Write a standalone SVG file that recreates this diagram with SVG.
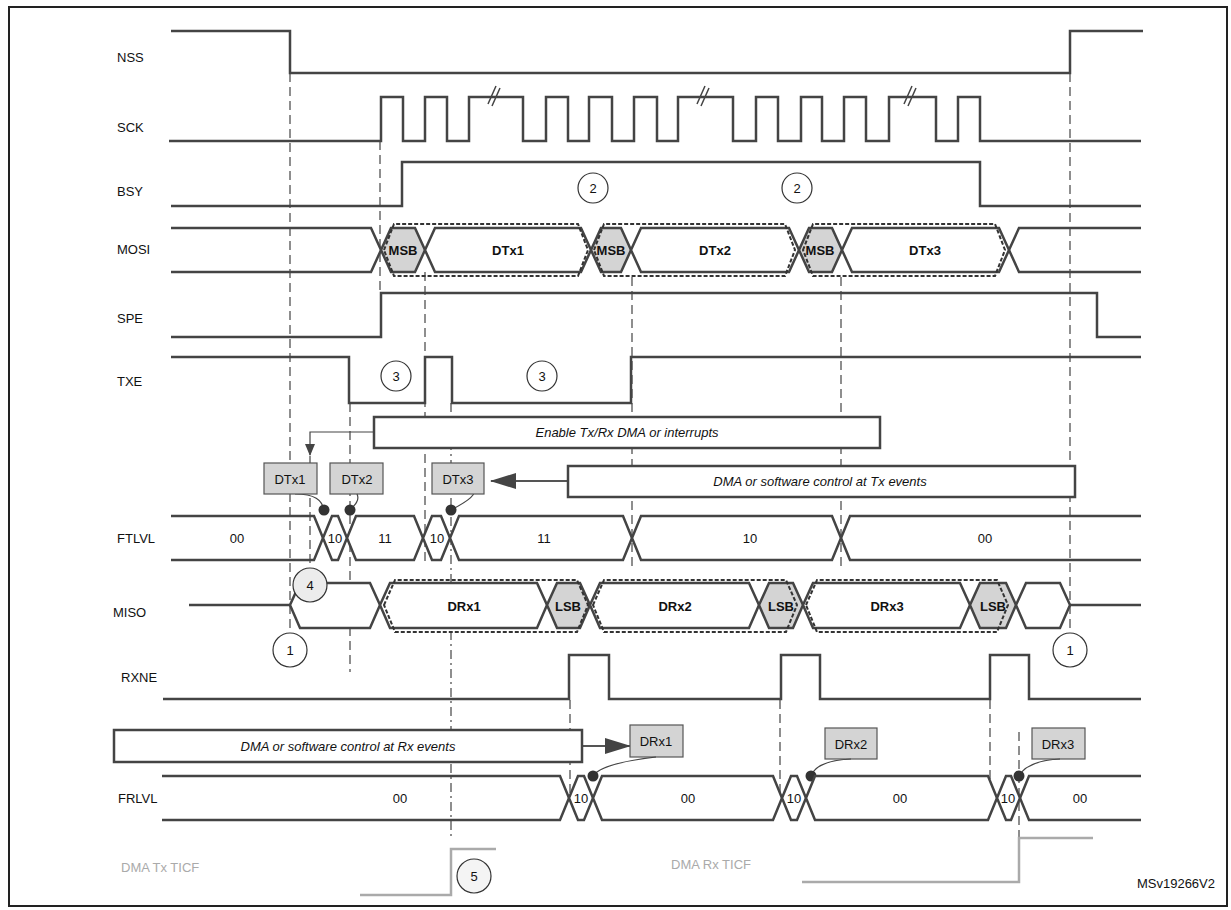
<svg xmlns="http://www.w3.org/2000/svg" width="1231" height="910" viewBox="0 0 1231 910">
<style>
text{font-family:"Liberation Sans",Arial,sans-serif;font-size:13px;fill:#111}
.c{text-anchor:middle}
.b{font-weight:bold}
.i{font-style:italic}
.g{fill:#aaa}
.sig{fill:none;stroke:#444;stroke-width:2.5}
.bus{fill:#fff;stroke:#444;stroke-width:2.5}
.sh{fill:#d4d4d4;stroke:#444;stroke-width:2.5}
.dbox{fill:none;stroke:#333;stroke-width:2;stroke-dasharray:4 2}
.vd{stroke:#444;stroke-width:1.2;stroke-dasharray:9 5;fill:none}
.vdd{stroke:#444;stroke-width:1.2;stroke-dasharray:9 4 2 4;fill:none}
.note{fill:#fff;stroke:#444;stroke-width:2.5}
.tag{fill:#d4d4d4;stroke:#555;stroke-width:1.2}
.circ{fill:#fff;stroke:#333;stroke-width:1.2}
.gl{fill:none;stroke:#aaa;stroke-width:2.5}
.lead{fill:none;stroke:#444;stroke-width:1.2}
</style>
<defs>
<marker id="ah" markerWidth="12" markerHeight="10" refX="11" refY="5" orient="auto" markerUnits="userSpaceOnUse"><path d="M0,0 L12,5 L0,10 Z" fill="#444"/></marker>
<marker id="ahb" markerWidth="26" markerHeight="16" refX="25" refY="8" orient="auto" markerUnits="userSpaceOnUse"><path d="M0,0 L26,8 L0,16 Z" fill="#444"/></marker>
</defs>
<rect x="9" y="7" width="1218" height="899" fill="none" stroke="#222" stroke-width="2"/>

<g id="labels">
<text x="117" y="62">NSS</text>
<text x="117" y="132">SCK</text>
<text x="117" y="196">BSY</text>
<text x="117" y="254">MOSI</text>
<text x="117" y="323">SPE</text>
<text x="117" y="386">TXE</text>
<text x="117" y="543">FTLVL</text>
<text x="113" y="617">MISO</text>
<text x="121" y="682">RXNE</text>
<text x="118" y="803">FRLVL</text>
<text x="121" y="872" class="g">DMA Tx TICF</text>
<text x="711" y="869" class="g c">DMA Rx TICF</text>
<text x="1215" y="888" style="text-anchor:end">MSv19266V2</text>
</g>

<g id="connectors">
<path class="vd" d="M290,73V633 M380,141V293 M425,272V562 M350,403V672 M632,277V567 M841,277V567 M1070,73V633 M570,700V798 M780,700V798 M990,700V798 M1019,732V838 M310,456V567"/>
<path class="vdd" d="M451,403V838"/>
<path class="lead" d="M374,432H310V455" marker-end="url(#ah)"/>
<path d="M568,481H491" stroke="#555" stroke-width="2" fill="none" marker-end="url(#ahb)"/>
<path d="M582,746H630" stroke="#555" stroke-width="2" fill="none" marker-end="url(#ahb)"/>
<path class="lead" d="M295,494C315,494 322,500 324,510 M476,486C476,495 470,500 451,510"/>
</g>

<g id="NSS"><path class="sig" d="M171,31H290V73H1070V31H1143"/></g>
<g id="SCK"><path class="sig" d="M169,141H381V97H403V141H425V97H447V141H469V97H523V141H546V97H568V141H589V97H612V141H634V97H657V141H678V97H733V141H756V97H778V141H801V97H822V141H844V97H866V141H889V97H936V141H958V97H980V141H1141"/>
<path d="M488,104L496,86M492,106L500,88 M697,104L705,86M701,106L709,88 M904,104L912,86M908,106L916,88" stroke="#444" stroke-width="1.5"/></g>
<g id="BSY"><path class="sig" d="M171,206H402V162H980V206H1141"/>
<circle class="circ" cx="593" cy="188" r="15"/><text x="593" y="193" class="c">2</text>
<circle class="circ" cx="797" cy="188" r="15"/><text x="797" y="193" class="c">2</text></g>

<g id="MOSI">
<path class="sig" d="M171,228H371L381,250L371,272H171"/>
<polygon class="sh" points="381,250 391,228 415,228 425,250 415,272 391,272"/>
<polygon class="bus" points="425,250 435,228 581,228 591,250 581,272 435,272"/>
<polygon class="sh" points="591,250 601,228 621,228 631,250 621,272 601,272"/>
<polygon class="bus" points="631,250 641,228 789,228 799,250 789,272 641,272"/>
<polygon class="sh" points="799,250 809,228 832,228 842,250 832,272 809,272"/>
<polygon class="bus" points="842,250 852,228 999,228 1009,250 999,272 852,272"/>
<path class="sig" d="M1141,228H1019L1009,250L1019,272H1141"/>
<polygon class="dbox" points="384,250 394,224 578,224 588,250 578,276 394,276"/>
<polygon class="dbox" points="594,250 604,224 785,224 795,250 785,276 604,276"/>
<polygon class="dbox" points="803,250 813,224 995,224 1005,250 995,276 813,276"/>
<text x="403" y="255" class="c b">MSB</text><text x="508" y="255" class="c b">DTx1</text>
<text x="611" y="255" class="c b">MSB</text><text x="715" y="255" class="c b">DTx2</text>
<text x="820" y="255" class="c b">MSB</text><text x="925" y="255" class="c b">DTx3</text>
</g>

<g id="SPE"><path class="sig" d="M171,337H381V293H1097V337H1141"/></g>
<g id="TXE"><path class="sig" d="M171,357H349V403H425V357H452V403H631V357H1141"/>
<circle class="circ" cx="396" cy="376" r="15"/><text x="396" y="381" class="c">3</text>
<circle class="circ" cx="542" cy="376" r="15"/><text x="542" y="381" class="c">3</text></g>

<g id="enable-note"><rect class="note" x="374" y="417" width="506" height="31"/><text x="627" y="437" class="c i">Enable Tx/Rx DMA or interrupts</text></g>
<g id="tx-note"><rect class="note" x="568" y="466" width="507" height="31"/><text x="820" y="486" class="c i">DMA or software control at Tx events</text></g>
<g id="tags-tx">
<rect class="tag" x="264" y="463" width="53" height="31"/><text x="290" y="484" class="c">DTx1</text>
<rect class="tag" x="330" y="463" width="53" height="31"/><text x="357" y="484" class="c">DTx2</text>
<rect class="tag" x="432" y="463" width="52" height="31"/><text x="458" y="484" class="c">DTx3</text>
<path class="lead" d="M357,494C360,500 355,505 350,510"/>
<circle cx="324" cy="510" r="5.5" fill="#333"/><circle cx="350" cy="510" r="5.5" fill="#333"/><circle cx="451" cy="510" r="5.5" fill="#333"/>
</g>

<g id="FTLVL">
<path class="sig" d="M171,516H314L323,538L314,560H171"/>
<polygon class="bus" points="323,538 332,516 338,516 347,538 338,560 332,560"/>
<polygon class="bus" points="347,538 356,516 414,516 423,538 414,560 356,560"/>
<polygon class="bus" points="423,538 432,516 441,516 450,538 441,560 432,560"/>
<polygon class="bus" points="450,538 459,516 623,516 632,538 623,560 459,560"/>
<polygon class="bus" points="632,538 641,516 832,516 841,538 832,560 641,560"/>
<path class="sig" d="M1141,516H850L841,538L850,560H1141"/>
<text x="237" y="543" class="c">00</text><text x="335" y="543" class="c">10</text><text x="385" y="543" class="c">11</text>
<text x="437" y="543" class="c">10</text><text x="544" y="543" class="c">11</text><text x="750" y="543" class="c">10</text><text x="985" y="543" class="c">00</text>
</g>

<g id="MISO">
<path class="sig" d="M189,605H290"/>
<polygon class="bus" points="290,605 300,583 370,583 380,605 370,628 300,628"/>
<polygon class="bus" points="380,605 390,583 537,583 547,605 537,628 390,628"/>
<polygon class="sh" points="547,605 557,583 580,583 590,605 580,628 557,628"/>
<polygon class="bus" points="590,605 600,583 749,583 759,605 749,628 600,628"/>
<polygon class="sh" points="759,605 769,583 793,583 803,605 793,628 769,628"/>
<polygon class="bus" points="803,605 813,583 960,583 970,605 960,628 813,628"/>
<polygon class="sh" points="970,605 980,583 1006,583 1016,605 1006,628 980,628"/>
<polygon class="bus" points="1016,605 1026,583 1060,583 1070,605 1060,628 1026,628"/>
<path class="sig" d="M1070,605H1141"/>
<polygon class="dbox" points="384,605 395,580 577,580 588,605 577,632 395,632"/>
<polygon class="dbox" points="593,605 604,580 786,580 797,605 786,632 604,632"/>
<polygon class="dbox" points="806,605 817,580 997,580 1008,605 997,632 817,632"/>
<text x="464" y="611" class="c b">DRx1</text><text x="568" y="611" class="c b">LSB</text>
<text x="675" y="611" class="c b">DRx2</text><text x="781" y="611" class="c b">LSB</text>
<text x="887" y="611" class="c b">DRx3</text><text x="993" y="611" class="c b">LSB</text>
<circle cx="310" cy="585" r="17" fill="#ececec" stroke="#333" stroke-width="1.2"/><text x="310" y="590" class="c">4</text>
<circle class="circ" cx="290" cy="650" r="17"/><text x="290" y="655" class="c">1</text>
<circle class="circ" cx="1070" cy="650" r="17"/><text x="1070" y="655" class="c">1</text>
</g>

<g id="RXNE"><path class="sig" d="M163,699H569V655H609V699H781V655H820V699H990V655H1029V699H1141"/></g>

<g id="rx-note"><rect class="note" x="114" y="730" width="468" height="32"/><text x="348" y="751" class="c i">DMA or software control at Rx events</text></g>
<g id="tags-rx">
<rect class="tag" x="630" y="725" width="53" height="32"/><text x="656" y="746" class="c">DRx1</text>
<rect class="tag" x="825" y="728" width="52" height="31"/><text x="851" y="749" class="c">DRx2</text>
<rect class="tag" x="1032" y="728" width="53" height="31"/><text x="1058" y="749" class="c">DRx3</text>
<path class="lead" d="M656,757C630,760 600,765 593,776 M851,759C830,760 815,765 811,776 M1060,759C1040,760 1025,765 1019,776"/>
<circle cx="593" cy="776" r="5.5" fill="#333"/><circle cx="811" cy="776" r="5.5" fill="#333"/><circle cx="1019" cy="776" r="5.5" fill="#333"/>
</g>

<g id="FRLVL">
<path class="sig" d="M162,776H560L569,798L560,820H162"/>
<polygon class="bus" points="569,798 578,776 584,776 593,798 584,820 578,820"/>
<polygon class="bus" points="593,798 602,776 773,776 782,798 773,820 602,820"/>
<polygon class="bus" points="782,798 791,776 797,776 806,798 797,820 791,820"/>
<polygon class="bus" points="806,798 815,776 988,776 997,798 988,820 815,820"/>
<polygon class="bus" points="997,798 1006,776 1011,776 1020,798 1011,820 1006,820"/>
<path class="sig" d="M1141,776H1029L1020,798L1029,820H1141"/>
<text x="400" y="803" class="c">00</text><text x="581" y="803" class="c">10</text><text x="688" y="803" class="c">00</text>
<text x="794" y="803" class="c">10</text><text x="900" y="803" class="c">00</text><text x="1008" y="803" class="c">10</text><text x="1080" y="803" class="c">00</text>
</g>

<g id="DMA-TICF">
<path class="gl" d="M360,895H451V849H496"/>
<path class="gl" d="M802,882H1019V838H1093"/>
<circle cx="474" cy="876" r="17" fill="#f4f4f4" stroke="#333" stroke-width="1.2"/><text x="474" y="881" class="c">5</text>
</g>
</svg>
